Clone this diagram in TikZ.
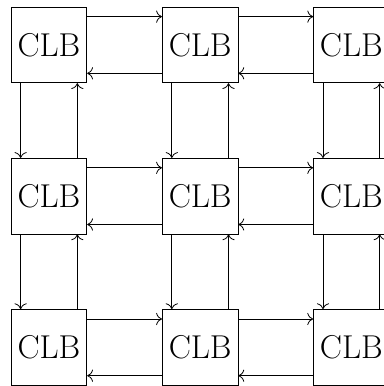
\documentclass[tikz,border=0pt]{standalone}
\usetikzlibrary{arrows.meta}
\begin{document}
\begin{tikzpicture}[
  line width=0.6pt,
  >={To[scale=1.5]},
  clb/.style={draw, minimum size=2cm, inner sep=0pt, font=\Huge},
  link/.style={->}
]
\useasboundingbox (-1.296,1.19) rectangle (8.838,-9.023);
\foreach \r in {1,2,3} {
  \foreach \c in {1,2,3} {
    \node[clb] (n\r\c) at ({(\c-1)*4},{-(\r-1)*4}) {CLB};
  }
}
\foreach \r in {1,2,3} {
  \foreach \c/\d in {1/2,2/3} {
    \draw[link] ([yshift=0.75cm]n\r\c.east) -- ([yshift=0.75cm]n\r\d.west);
    \draw[link] ([yshift=-0.75cm]n\r\d.west) -- ([yshift=-0.75cm]n\r\c.east);
  }
}
\foreach \c in {1,2,3} {
  \foreach \r/\s in {1/2,2/3} {
    \draw[link] ([xshift=-0.75cm]n\r\c.south) -- ([xshift=-0.75cm]n\s\c.north);
    \draw[link] ([xshift=0.75cm]n\s\c.north) -- ([xshift=0.75cm]n\r\c.south);
  }
}
\end{tikzpicture}
\end{document}
